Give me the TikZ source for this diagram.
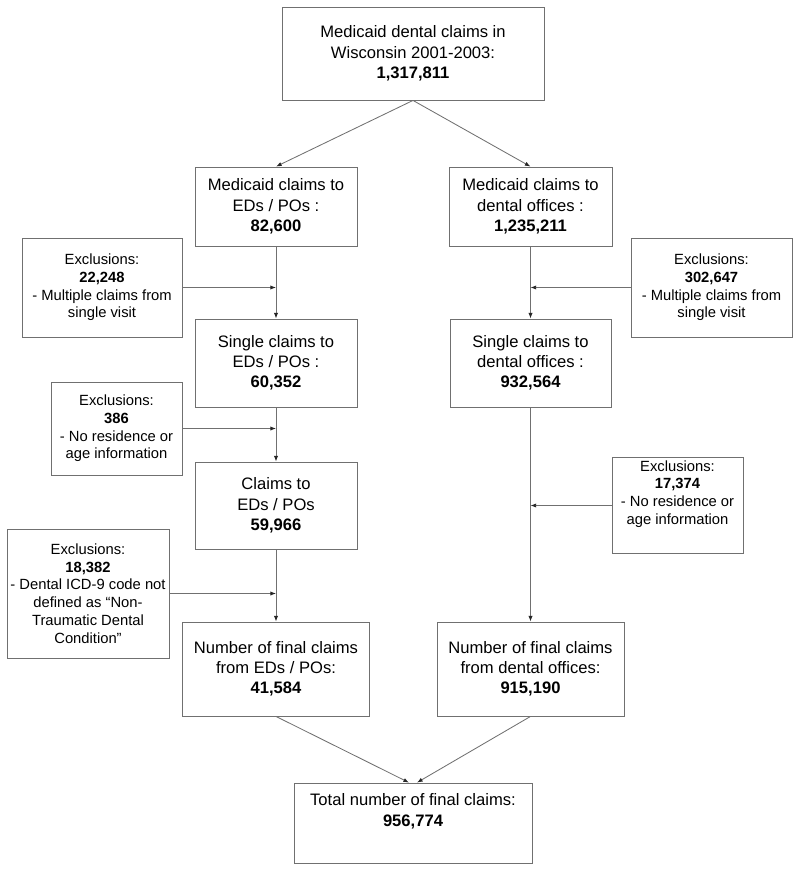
\documentclass[tikz,border=0pt]{standalone}
\usepackage{fontspec}
\setmainfont{Liberation Sans}
\usepackage{xcolor}
\usetikzlibrary{positioning,arrows.meta,calc}
\definecolor{flowgray}{RGB}{112,112,112}

\begin{document}
\begin{tikzpicture}[x=0.025cm, y=-0.025cm]
  \tikzset{
    claimbox/.style={draw=flowgray, line width=0.6pt, align=center, inner sep=2pt,
      font=\fontsize{11.8}{14.4}\selectfont},
    exclbox/.style={draw=flowgray, line width=0.6pt, align=center, inner sep=2pt,
      font=\fontsize{10.5}{12.6}\selectfont},
    flow/.style={draw=flowgray, line width=0.6pt, -{Latex[length=4pt,width=3pt,color=black!85]}}
  }
  \useasboundingbox (0,0) rectangle (800,872);

  % Top box
  \node[claimbox, minimum width=6.55cm, minimum height=2.325cm] (all) at (413,53.5)
    {Medicaid dental claims in\\Wisconsin 2001-2003:\\\textbf{1,317,811}};

  % Left column: EDs / POs
  \node[claimbox, minimum width=4.05cm, minimum height=1.975cm] (edA) at (276,206.5)
    {Medicaid claims to\\EDs / POs :\\\textbf{82,600}};
  \node[claimbox, minimum width=4.05cm, minimum height=2.2cm] (edB) at (276,363)
    {Single claims to\\EDs / POs :\\\textbf{60,352}};
  \node[claimbox, minimum width=4.05cm, minimum height=2.175cm] (edC) at (276,505.5)
    {Claims to\\EDs / POs\\\textbf{59,966}};
  \node[claimbox, minimum width=4.675cm, minimum height=2.35cm] (edD) at (276,669)
    {Number of final claims\\from EDs / POs:\\\textbf{41,584}};

  \node[exclbox, minimum width=4cm, minimum height=2.475cm] (edX1) at (102,287.5)
    {Exclusions:\\\textbf{22,248}\\- Multiple claims from\\single visit};
  \node[exclbox, minimum width=3.275cm, minimum height=2.325cm] (edX2) at (116.5,428.5)
    {Exclusions:\\\textbf{386}\\- No residence or\\age information};
  \node[exclbox, minimum width=4.05cm, minimum height=3.225cm] (edX3) at (88,593.5)
    {Exclusions:\\\textbf{18,382}\\- Dental ICD-9 code not\\defined as ``Non-\\Traumatic Dental\\Condition''};

  % Right column: dental offices
  \node[claimbox, minimum width=4.075cm, minimum height=1.975cm] (dtA) at (530.5,206.5)
    {Medicaid claims to\\dental offices :\\\textbf{1,235,211}};
  \node[claimbox, minimum width=4.025cm, minimum height=2.2cm] (dtB) at (530.5,363)
    {Single claims to\\dental offices :\\\textbf{932,564}};
  \node[claimbox, minimum width=4.675cm, minimum height=2.35cm] (dtD) at (530.5,669)
    {Number of final claims\\from dental offices:\\\textbf{915,190}};

  \node[exclbox, minimum width=4.025cm, minimum height=2.475cm] (dtX1) at (711.5,287.5)
    {Exclusions:\\\textbf{302,647}\\- Multiple claims from\\single visit};
  \node[exclbox, minimum width=3.275cm, minimum height=2.325cm] (dtX2) at (677.5,505.5)
    {Exclusions:\\\textbf{17,374}\\- No residence or\\age information\\[6pt]};

  % Total
  \node[claimbox, minimum width=5.95cm, minimum height=2cm] (total) at (413,823)
    {Total number of final claims:\\\textbf{956,774}\\[4pt]};

  % connectors
  \draw[flow] (all.south) -- (edA.north);
  \draw[flow] (all.south) -- (dtA.north);

  \draw[flow] (edA) -- (edB);
  \draw[flow] (edB) -- (edC);
  \draw[flow] (edC) -- (edD);
  \draw[flow] (edX1.east) -- (edX1.east -| edA.south);
  \draw[flow] (edX2.east) -- (edX2.east -| edB.south);
  \draw[flow] (edX3.east) -- (edX3.east -| edC.south);

  \draw[flow] (dtA) -- (dtB);
  \draw[flow] (dtB) -- (dtD);
  \draw[flow] (dtX1.west) -- (dtX1.west -| dtA.south);
  \draw[flow] (dtX2.west) -- (dtX2.west -| dtB.south);

  \draw[flow] (edD.south) -- ($(total.north)+(-4,0)$);
  \draw[flow] (dtD.south) -- ($(total.north)+(4,0)$);
\end{tikzpicture}
\end{document}
